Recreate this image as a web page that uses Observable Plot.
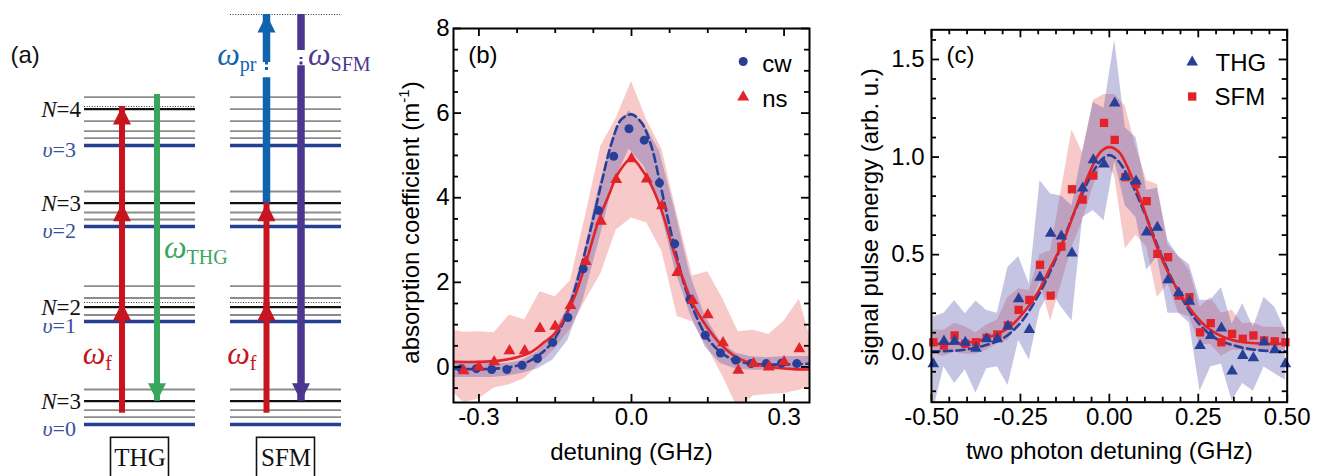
<!DOCTYPE html>
<html>
<head>
<meta charset="utf-8">
<script src="https://cdn.jsdelivr.net/npm/d3@7"></script>
<script src="https://cdn.jsdelivr.net/npm/@observablehq/plot@0.6"></script>
<style>
  html, body { margin: 0; padding: 0; background: #fff; }
  #fig { position: relative; width: 1320px; height: 476px; overflow: hidden; background: #fff; }
  #fig > svg { position: absolute; top: 0; }
</style>
</head>
<body>
<div id="fig"></div>
<script>
// ======================= DATA =======================
// ---- panel (a): level scheme (energies in arbitrary units, v=0 at 0) ----
const levelE  = [410, 327.3, 318, 315.3, 303.3, 293.3, 286.3, 279, 233, 221.3, 212, 205, 198, 138.3, 126.5, 122, 117.3, 109.5, 103, 35, 23.3, 14.3, 7.3, 0];
const thgKind = [null, "rot", "virt", "N", "rot", "rot", "rot", "v", "rot", "N", "rot", "rot", "v", "rot", "rot", "virt", "N", "rot", "v", "rot", "N", "rot", "rot", "v"];
const sfmKind = ["virt", "rot", null, "rot", "rot", "rot", "rot", "v", "rot", "N", "rot", "rot", "v", "rot", "rot", "virt", "N", "rot", "v", "rot", "N", "rot", "rot", "v"];
const levelLabels  = ["N=4", "υ=3", "N=3", "υ=2", "N=2", "υ=1", "N=3", "υ=0"];
const levelLabelE  = [315.3, 279, 221.3, 198, 117.3, 103, 23.3, 0];
const transScheme = ["THG", "THG", "THG", "THG", "SFM", "SFM", "SFM", "SFM"];
const transBeam   = ["f", "f", "f", "THG", "f", "f", "pr", "SFM"];
const transFrom   = [23.3, 122, 221.3, 318, 23.3, 122, 221.3, 410];
const transTo     = [122, 221.3, 318, 23.3, 122, 221.3, 410, 23.3];
const beamLabelScheme = ["THG", "THG", "SFM", "SFM", "SFM"];
const beamLabelBeam   = ["f", "THG", "f", "pr", "SFM"];
const beamLabelText   = ["ω_f", "ω_THG", "ω_f", "ω_pr", "ω_SFM"];
const beamLabelE      = [61, 167, 61, 360, 360];
const schemeNames = ["THG", "SFM"];

// ---- panel (b): absorption vs detuning ----
const nsX = [-0.33, -0.30, -0.27, -0.24, -0.21, -0.18, -0.15, -0.12, -0.09, -0.06, -0.03, 0, 0.03, 0.06, 0.09, 0.12, 0.15, 0.18, 0.21, 0.24, 0.27, 0.30, 0.33];
const nsY = [-0.09, 0.00, 0.12, 0.38, 0.38, 0.91, 0.96, 1.45, 2.49, 3.44, 4.43, 4.92, 4.44, 3.81, 2.23, 1.57, 1.23, 0.57, -0.08, 0.08, 0.00, 0.12, 0.43];
const cwX = [-0.335, -0.305, -0.275, -0.245, -0.215, -0.185, -0.155, -0.125, -0.095, -0.065, -0.035, -0.005, 0.025, 0.055, 0.085, 0.115, 0.145, 0.175, 0.205, 0.235, 0.265, 0.295, 0.325];
const cwY = [-0.04, -0.04, -0.06, -0.06, 0.04, 0.20, 0.58, 1.17, 2.32, 3.70, 4.98, 5.63, 5.36, 4.35, 2.91, 1.60, 0.75, 0.33, 0.16, 0.08, 0.08, 0.09, 0.08];
const nsBandX  = [-0.35, -0.33, -0.30, -0.27, -0.24, -0.21, -0.18, -0.15, -0.12, -0.09, -0.06, -0.03, 0, 0.03, 0.06, 0.09, 0.12, 0.15, 0.18, 0.21, 0.24, 0.27, 0.30, 0.33, 0.35];
const nsBandHi = [0.86, 0.82, 0.83, 0.81, 1.23, 1.11, 1.78, 1.66, 2.04, 3.6, 5.22, 5.88, 6.75, 5.84, 5.14, 3.6, 2.15, 2.25, 1.6, 0.83, 0.87, 0.77, 1.08, 1.6, 0.75];
const nsBandLo = [-0.6, -0.85, -0.75, -0.5, -0.42, -0.27, 0.08, 0.43, 0.9, 1.58, 2.21, 3.24, 3.52, 3.4, 2.73, 1.19, 1.07, 0.45, -0.24, -1.0, -0.68, -0.65, -0.63, -0.55, -0.47];
const cwBandX  = [-0.35, -0.335, -0.305, -0.275, -0.245, -0.215, -0.185, -0.155, -0.125, -0.095, -0.065, -0.035, -0.005, 0.025, 0.055, 0.085, 0.115, 0.145, 0.175, 0.205, 0.235, 0.265, 0.295, 0.325, 0.35];
const cwBandHi = [0.1, 0.1, 0.1, 0.08, 0.08, 0.15, 0.36, 0.75, 1.42, 2.6, 4.2, 5.5, 6.05, 5.75, 5.1, 3.72, 2.2, 1.19, 0.6, 0.33, 0.24, 0.22, 0.24, 0.25, 0.25];
const cwBandLo = [-0.25, -0.25, -0.25, -0.25, -0.22, -0.15, -0.05, 0.16, 0.63, 1.58, 2.92, 4.35, 5.15, 4.74, 3.8, 2.33, 1.26, 0.47, 0.08, -0.04, -0.08, -0.08, -0.07, -0.07, -0.07];
const nsFitX = [-0.35, -0.30, -0.26, -0.225, -0.195, -0.17, -0.15, -0.13, -0.11, -0.09, -0.065, -0.045, -0.025, 0, 0.023, 0.043, 0.063, 0.082, 0.102, 0.122, 0.148, 0.174, 0.2, 0.227, 0.253, 0.286, 0.319, 0.35];
const nsFitY = [0.12, 0.12, 0.15, 0.23, 0.37, 0.6, 0.8, 1.2, 1.72, 2.45, 3.45, 4.05, 4.6, 4.92, 4.62, 4.19, 3.56, 2.77, 2.06, 1.46, 0.95, 0.55, 0.28, 0.12, 0.04, -0.02, -0.05, -0.06];
const cwFitX = [-0.35, -0.29, -0.237, -0.204, -0.178, -0.158, -0.138, -0.118, -0.099, -0.079, -0.059, -0.039, -0.02, 0, 0.02, 0.039, 0.056, 0.072, 0.089, 0.105, 0.125, 0.148, 0.174, 0.2, 0.234, 0.286, 0.35];
const cwFitY = [-0.04, -0.05, 0.0, 0.12, 0.32, 0.55, 0.95, 1.58, 2.37, 3.32, 4.35, 5.3, 5.85, 5.97, 5.77, 5.22, 4.35, 3.48, 2.61, 1.9, 1.26, 0.71, 0.36, 0.17, 0.08, 0.055, 0.08];
const bXMajor = [-0.3, 0, 0.3];
const bXMinor = [-0.225, -0.15, -0.075, 0.075, 0.15, 0.225];
const bYMajor = [0, 2, 4, 6, 8];
const bYMinor = [-0.5, 0.5, 1, 1.5, 2.5, 3, 3.5, 4.5, 5, 5.5, 6.5, 7, 7.5];
const bLegend = ["cw", "ns"];
const bXTitle = "detuning (GHz)";
const bYTitle = "absorption coefficient (m^-1)";

// ---- panel (c): signal vs two-photon detuning ----
const cX = [-0.495, -0.465, -0.435, -0.405, -0.375, -0.345, -0.315, -0.285, -0.255, -0.225, -0.195, -0.165, -0.135, -0.105, -0.075, -0.045, -0.015, 0.015, 0.045, 0.075, 0.105, 0.135, 0.165, 0.195, 0.225, 0.255, 0.285, 0.315, 0.345, 0.375, 0.405, 0.435, 0.465, 0.495];
const thgY = [-0.06, 0.056, 0.056, 0.05, 0.02, 0.068, 0.068, 0.133, 0.273, 0.116, 0.384, 0.609, 0.595, 0.507, 0.841, 0.985, 0.964, 1.276, 0.9, 0.876, 0.615, 0.64, 0.371, 0.304, 0.261, 0.034, 0.085, 0.123, -0.097, -0.017, -0.029, 0.051, 0.012, -0.06];
const sfmY = [0.051, 0.034, 0.086, 0.043, 0.051, 0.074, 0.091, 0.137, 0.217, 0.268, 0.448, 0.29, 0.541, 0.835, 0.782, 0.905, 1.175, 1.088, 0.897, 0.862, 0.774, 0.504, 0.487, 0.29, 0.282, 0.102, 0.149, 0.051, 0.094, 0.069, 0.086, 0.06, 0.056, 0.051];
const thgHi = [0.18, 0.2, 0.265, 0.197, 0.262, 0.214, 0.2, 0.436, 0.49, 0.35, 0.879, 0.811, 0.8, 0.75, 1.03, 1.28, 1.25, 1.6, 1.15, 1.1, 0.83, 0.84, 0.57, 0.49, 0.45, 0.266, 0.266, 0.33, 0.145, 0.248, 0.128, 0.282, 0.231, 0.111];
const thgLo = [-0.3, -0.075, -0.16, -0.09, -0.21, -0.085, -0.075, -0.17, 0.06, -0.04, 0.214, 0.316, 0.23, 0.16, 0.69, 0.726, 0.674, 0.98, 0.75, 0.69, 0.42, 0.49, 0.2, 0.2, 0.15, -0.2, -0.076, -0.06, -0.25, -0.16, -0.2, -0.076, -0.11, -0.144];
const sfmHi = [0.113, 0.113, 0.148, 0.13, 0.1, 0.14, 0.165, 0.28, 0.325, 0.316, 0.5, 0.52, 0.83, 1.14, 1.02, 1.29, 1.32, 1.32, 1.26, 1.05, 0.88, 0.86, 0.55, 0.49, 0.42, 0.23, 0.28, 0.2, 0.215, 0.147, 0.15, 0.128, 0.128, 0.125];
const sfmLo = [-0.01, -0.02, 0, -0.01, -0.01, 0.01, 0.043, 0.06, 0.148, 0.23, 0.36, 0.16, 0.35, 0.538, 0.674, 0.85, 1.0, 0.9, 0.53, 0.6, 0.54, 0.28, 0.35, 0.2, 0.18, 0.04, 0.04, -0.02, 0.01, 0.01, 0, 0.01, 0.01, 0.01];
const sfmFitX = [-0.5, -0.42, -0.36, -0.315, -0.28, -0.24, -0.2, -0.165, -0.13, -0.09, -0.053, -0.025, 0, 0.027, 0.055, 0.092, 0.13, 0.167, 0.205, 0.242, 0.28, 0.322, 0.378, 0.5];
const sfmFitY = [0.043, 0.046, 0.063, 0.094, 0.13, 0.205, 0.31, 0.436, 0.565, 0.76, 0.932, 1.026, 1.051, 1.026, 0.932, 0.76, 0.556, 0.402, 0.282, 0.188, 0.12, 0.077, 0.051, 0.043];
const thgFitX = [-0.5, -0.42, -0.36, -0.3, -0.25, -0.2, -0.15, -0.1, -0.05, -0.02, 0, 0.02, 0.05, 0.1, 0.15, 0.2, 0.25, 0.3, 0.36, 0.42, 0.5];
const thgFitY = [0.005, 0.01, 0.03, 0.07, 0.15, 0.29, 0.48, 0.71, 0.91, 0.99, 1.01, 0.99, 0.91, 0.71, 0.48, 0.29, 0.15, 0.07, 0.03, 0.01, 0.005];
const cXMajor = [-0.5, -0.25, 0, 0.25, 0.5];
const cXMinor = [-0.45, -0.4, -0.35, -0.3, -0.2, -0.15, -0.1, -0.05, 0.05, 0.1, 0.15, 0.2, 0.3, 0.35, 0.4, 0.45];
const cYMajor = [0, 0.5, 1, 1.5];
const cYMinor = [-0.2, -0.1, 0.1, 0.2, 0.3, 0.4, 0.6, 0.7, 0.8, 0.9, 1.1, 1.2, 1.3, 1.4, 1.6];
const cLegend = ["THG", "SFM"];
const cXTitle = "two photon detuning (GHz)";
const cYTitle = "signal pulse energy (arb. u.)";

// ======================= STYLE / LAYOUT =======================
const SANS = "'Liberation Sans', Arial, Helvetica, sans-serif";
const SERIF = "'Liberation Serif', 'Times New Roman', serif";
const RED = "#e2232a", BLUE = "#283f98";
const RED_BAND = "rgb(230,90,90)", BLUE_BAND = "rgb(80,80,170)", BAND_OP = 0.33;
const fig = document.getElementById("fig");

const zip = (xs, ys, kx = "x", ky = "y") => xs.map((x, i) => ({[kx]: x, [ky]: ys[i]}));
const band = (xs, lo, hi) => xs.map((x, i) => ({x, lo: lo[i], hi: hi[i]}));

function frameTicks(xMaj, xMin, yMaj, yMin, fw, fh) {
  const o = {stroke: "#000", strokeWidth: 1.8};
  const L = 8, l = 5;
  return [
    Plot.tickX(xMaj, {x: d => d, insetTop: fh - L, ...o}),
    Plot.tickX(xMaj, {x: d => d, insetBottom: fh - L, ...o}),
    Plot.tickX(xMin, {x: d => d, insetTop: fh - l, ...o}),
    Plot.tickX(xMin, {x: d => d, insetBottom: fh - l, ...o}),
    Plot.tickY(yMaj, {y: d => d, insetRight: fw - L, ...o}),
    Plot.tickY(yMaj, {y: d => d, insetLeft: fw - L, ...o}),
    Plot.tickY(yMin, {y: d => d, insetRight: fw - l, ...o}),
    Plot.tickY(yMin, {y: d => d, insetLeft: fw - l, ...o})
  ];
}

function richText(svg) {
  d3.select(svg).selectAll("text").each(function () {
    if (this.querySelector("tspan")) return;
    const s = this.textContent, el = d3.select(this);
    let m;
    if ((m = /^(ω)_(.+)$/.exec(s))) {
      el.text(null);
      el.append("tspan").attr("font-style", "italic").text(m[1]);
      el.append("tspan").attr("font-size", 20).attr("dy", 6).text(m[2]);
    } else if ((m = /^([Nυ])(=\d)$/.exec(s))) {
      el.text(null);
      el.append("tspan").attr("font-style", "italic").text(m[1]);
      el.append("tspan").text(m[2]);
    } else if ((m = /^(.*)\^(-?\d+)(.*)$/.exec(s))) {
      el.text(null);
      el.append("tspan").text(m[1]);
      el.append("tspan").attr("font-size", 15).attr("dy", -10).text(m[2]);
      el.append("tspan").attr("dy", 10).text(m[3]);
    }
  });
}

function place(svg, left) {
  richText(svg);
  svg.style.left = left + "px";
  fig.appendChild(svg);
}

// ======================= PANEL (a) =======================
{
  const colX = {THG: [84, 195], SFM: [230, 341]};
  const colC = s => (colX[s][0] + colX[s][1]) / 2;
  const arrowX = {THG: {f: 121.5, THG: 156.5}, SFM: {f: 266, pr: 266, SFM: 300.5}};
  const beamColor = {f: "#c8141e", THG: "#3aa55d", pr: "#1064ad", SFM: "#4b378f"};
  const beamWidth = {f: 6, THG: 6, pr: 7.5, SFM: 7.5};
  const gapE = [346.7, 374], dotsE = [354, 367];
  const levelStyle = {
    rot: {stroke: "#8c8c8c", w: 1.8, dash: null},
    N: {stroke: "#111", w: 2.2, dash: null},
    v: {stroke: "#263f92", w: 3.6, dash: null},
    virt: {stroke: "#333", w: 1, dash: "1,1.6"}
  };
  const arrowHead = {draw(ctx) { ctx.moveTo(0, 0); ctx.lineTo(9, 18); ctx.lineTo(-9, 18); ctx.closePath(); }};

  const levels = [];
  [["THG", thgKind], ["SFM", sfmKind]].forEach(([scheme, kinds]) =>
    kinds.forEach((k, i) => { if (k) levels.push({scheme, E: levelE[i], kind: k}); }));

  const trans = transFrom.map((from, i) => ({scheme: transScheme[i], beam: transBeam[i], from, to: transTo[i]}));
  const shafts = [];
  for (const t of trans) {
    const up = t.to > t.from, lo = Math.min(t.from, t.to), hi = Math.max(t.from, t.to);
    const base = {scheme: t.scheme, beam: t.beam};
    if (t.beam === "pr" || t.beam === "SFM") {
      shafts.push({...base, a: lo, b: gapE[0], head: up ? null : "bottom"});
      shafts.push({...base, a: gapE[1], b: hi, head: up ? "top" : null});
    } else {
      shafts.push({...base, a: lo, b: hi, head: up ? "top" : "bottom"});
    }
  }
  const ax = d => arrowX[d.scheme][d.beam];
  const shaftOpts = {x: ax, y1: "a", y2: "b", stroke: d => beamColor[d.beam], strokeWidth: d => beamWidth[d.beam]};
  const dotted = trans.filter(t => t.beam === "pr" || t.beam === "SFM");

  const labels = levelLabels.map((text, i) => ({text, E: levelLabelE[i]}));
  const beamLabels = beamLabelText.map((text, i) => ({text, scheme: beamLabelScheme[i], beam: beamLabelBeam[i], E: beamLabelE[i]}));
  const leftOf = b => b.beam === "f" || b.beam === "pr";

  const marks = [];
  for (const kind of ["rot", "N", "v", "virt"]) {
    const s = levelStyle[kind];
    marks.push(Plot.ruleY(levels.filter(d => d.kind === kind), {
      y: "E", x1: d => colX[d.scheme][0], x2: d => colX[d.scheme][1],
      stroke: s.stroke, strokeWidth: s.w, strokeDasharray: s.dash
    }));
  }
  marks.push(
    Plot.ruleX(shafts.filter(d => d.head === null), shaftOpts),
    Plot.ruleX(shafts.filter(d => d.head === "top"), {...shaftOpts, insetTop: 12}),
    Plot.ruleX(shafts.filter(d => d.head === "bottom"), {...shaftOpts, insetBottom: 12}),
    Plot.ruleX(dotted, {x: ax, y1: () => dotsE[0], y2: () => dotsE[1], stroke: d => beamColor[d.beam], strokeWidth: 3, strokeDasharray: "3,2.5"}),
    Plot.dot(trans.filter(t => t.to > t.from), {x: ax, y: "to", symbol: arrowHead, r: 1, fill: d => beamColor[d.beam]}),
    Plot.dot(trans.filter(t => t.to < t.from), {x: ax, y: "to", symbol: arrowHead, r: 1, rotate: 180, fill: d => beamColor[d.beam]}),
    Plot.text(labels.filter(d => d.text[0] === "N"), {x: () => colX.THG[0] - 3.5, y: "E", text: "text", textAnchor: "end", lineAnchor: "middle", fontSize: 23, fontFamily: SERIF, fill: "#111"}),
    Plot.text(labels.filter(d => d.text[0] === "υ"), {x: () => colX.THG[0] - 8.5, y: "E", dy: 4, text: "text", textAnchor: "end", lineAnchor: "middle", fontSize: 22, fontFamily: SERIF, fill: "#3b4fa0"}),
    Plot.text(beamLabels.filter(leftOf), {x: d => arrowX[d.scheme][d.beam], y: "E", dx: -10, text: "text", textAnchor: "end", lineAnchor: "bottom", fontSize: 32, fontFamily: SERIF, fill: d => beamColor[d.beam]}),
    Plot.text(beamLabels.filter(b => !leftOf(b)), {x: d => arrowX[d.scheme][d.beam], y: "E", dx: 7, text: "text", textAnchor: "start", lineAnchor: "bottom", fontSize: 32, fontFamily: SERIF, fill: d => beamColor[d.beam]}),
    Plot.rect(schemeNames, {x1: s => colC(s) - 29, x2: s => colC(s) + 29, y1: () => -13.3, y2: () => -70, fill: "white", stroke: "#111", strokeWidth: 1.6}),
    Plot.text(schemeNames, {x: s => colC(s), y: () => -41, text: s => s, lineAnchor: "bottom", fontSize: 25, fontFamily: SERIF, fill: "#111"}),
    Plot.text(["(a)"], {frameAnchor: "top-left", dx: 10, dy: 62, textAnchor: "start", lineAnchor: "bottom", fontSize: 24, fontFamily: SANS, fill: "#111"})
  );

  const svg = Plot.plot({
    width: 385, height: 476, margin: 0,
    x: {domain: [0, 385], axis: null},
    y: {domain: [-52, 424], axis: null},
    color: {type: "identity"},
    style: {fontFamily: SERIF, background: "transparent", color: "#111"},
    marks
  });
  place(svg, 0);
}

// ======================= PANEL (b) =======================
{
  const W = 455, H = 476, mL = 68, mR = 31, mT = 28, mB = 74;
  const fw = W - mL - mR, fh = H - mT - mB;
  const svg = Plot.plot({
    width: W, height: H, marginLeft: mL, marginRight: mR, marginTop: mT, marginBottom: mB,
    x: {domain: [-0.35, 0.35]},
    y: {domain: [-0.84, 8]},
    style: {fontFamily: SANS, fontSize: "24px", color: "#000", background: "transparent"},
    marks: [
      Plot.areaY(band(nsBandX, nsBandLo, nsBandHi), {x: "x", y1: "lo", y2: "hi", fill: RED_BAND, fillOpacity: BAND_OP, clip: true}),
      Plot.areaY(band(cwBandX, cwBandLo, cwBandHi), {x: "x", y1: "lo", y2: "hi", fill: BLUE_BAND, fillOpacity: BAND_OP, clip: true}),
      Plot.line(zip(cwFitX, cwFitY), {x: "x", y: "y", stroke: BLUE, strokeWidth: 2.6, strokeDasharray: "8,4.5", curve: "catmull-rom", clip: true}),
      Plot.line(zip(nsFitX, nsFitY), {x: "x", y: "y", stroke: RED, strokeWidth: 2.6, curve: "catmull-rom", clip: true}),
      Plot.dot(zip(cwX, cwY), {x: "x", y: "y", symbol: "circle", r: 4.5, fill: BLUE}),
      Plot.dot(zip(nsX, nsY), {x: "x", y: "y", symbol: "triangle", r: 4.4, fill: RED}),
      Plot.frame({stroke: "#000", strokeWidth: 2}),
      ...frameTicks(bXMajor, bXMinor, bYMajor, bYMinor, fw, fh),
      Plot.axisX({ticks: bXMajor, tickSize: 0, tickPadding: 5, tickFormat: d => d.toFixed(1), label: null}),
      Plot.axisY({ticks: bYMajor, tickSize: 0, tickPadding: 4, tickFormat: d => String(d), label: null}),
      Plot.text([bXTitle], {frameAnchor: "bottom", lineAnchor: "bottom", dy: 57}),
      Plot.text([bYTitle], {frameAnchor: "left", rotate: -90, textAnchor: "middle", lineAnchor: "bottom", dx: -34.7, dy: 7}),
      Plot.text(["(b)"], {frameAnchor: "top-left", textAnchor: "start", lineAnchor: "bottom", dx: 14.7, dy: 34}),
      Plot.dot([bLegend[0]], {frameAnchor: "top-right", dx: -66.3, dy: 33, symbol: "circle", r: 4.5, fill: BLUE}),
      Plot.text([bLegend[0]], {frameAnchor: "top-right", dx: -47.3, dy: 43.7, textAnchor: "start", lineAnchor: "bottom"}),
      Plot.dot([bLegend[1]], {frameAnchor: "top-right", dx: -66.3, dy: 68.7, symbol: "triangle", r: 4.4, fill: RED}),
      Plot.text([bLegend[1]], {frameAnchor: "top-right", dx: -47.3, dy: 78, textAnchor: "start", lineAnchor: "bottom"})
    ]
  });
  place(svg, 385);
}

// ======================= PANEL (c) =======================
{
  const W = 475, H = 476, mL = 86, mR = 33.3, mT = 29.3, mB = 74.3;
  const fw = W - mL - mR, fh = H - mT - mB;
  const svg = Plot.plot({
    width: W, height: H, marginLeft: mL, marginRight: mR, marginTop: mT, marginBottom: mB,
    x: {domain: [-0.5, 0.5]},
    y: {domain: [-0.256, 1.652]},
    style: {fontFamily: SANS, fontSize: "24px", color: "#000", background: "transparent"},
    marks: [
      Plot.areaY(band(cX, sfmLo, sfmHi), {x: "x", y1: "lo", y2: "hi", fill: RED_BAND, fillOpacity: BAND_OP, clip: true}),
      Plot.areaY(band(cX, thgLo, thgHi), {x: "x", y1: "lo", y2: "hi", fill: BLUE_BAND, fillOpacity: BAND_OP, clip: true}),
      Plot.line(zip(thgFitX, thgFitY), {x: "x", y: "y", stroke: BLUE, strokeWidth: 2.6, strokeDasharray: "8,4.5", curve: "catmull-rom", clip: true}),
      Plot.line(zip(sfmFitX, sfmFitY), {x: "x", y: "y", stroke: RED, strokeWidth: 2.6, curve: "catmull-rom", clip: true}),
      Plot.dot(zip(cX, sfmY), {x: "x", y: "y", symbol: "square", r: 4.7, fill: RED}),
      Plot.dot(zip(cX, thgY), {x: "x", y: "y", symbol: "triangle", r: 4.3, fill: BLUE}),
      Plot.frame({stroke: "#000", strokeWidth: 2}),
      ...frameTicks(cXMajor, cXMinor, cYMajor, cYMinor, fw, fh),
      Plot.axisX({ticks: cXMajor, tickSize: 0, tickPadding: 6, tickFormat: d => d.toFixed(2), label: null}),
      Plot.axisY({ticks: cYMajor, tickSize: 0, tickPadding: 7, tickFormat: d => d.toFixed(1), label: null}),
      Plot.text([cXTitle], {frameAnchor: "bottom", lineAnchor: "bottom", dy: 57}),
      Plot.text([cYTitle], {frameAnchor: "left", rotate: -90, textAnchor: "middle", lineAnchor: "bottom", dx: -54, dy: 1}),
      Plot.text(["(c)"], {frameAnchor: "top-left", textAnchor: "start", lineAnchor: "bottom", dx: 15, dy: 32.7}),
      Plot.dot([cLegend[0]], {frameAnchor: "top-right", dx: -95, dy: 32.4, symbol: "triangle", r: 4.3, fill: BLUE}),
      Plot.text([cLegend[0]], {frameAnchor: "top-right", dx: -71.7, dy: 40.7, textAnchor: "start", lineAnchor: "bottom"}),
      Plot.dot([cLegend[1]], {frameAnchor: "top-right", dx: -95, dy: 66.7, symbol: "square", r: 4.7, fill: RED}),
      Plot.text([cLegend[1]], {frameAnchor: "top-right", dx: -72.7, dy: 74.7, textAnchor: "start", lineAnchor: "bottom"})
    ]
  });
  place(svg, 845);
}
</script>
</body>
</html>
